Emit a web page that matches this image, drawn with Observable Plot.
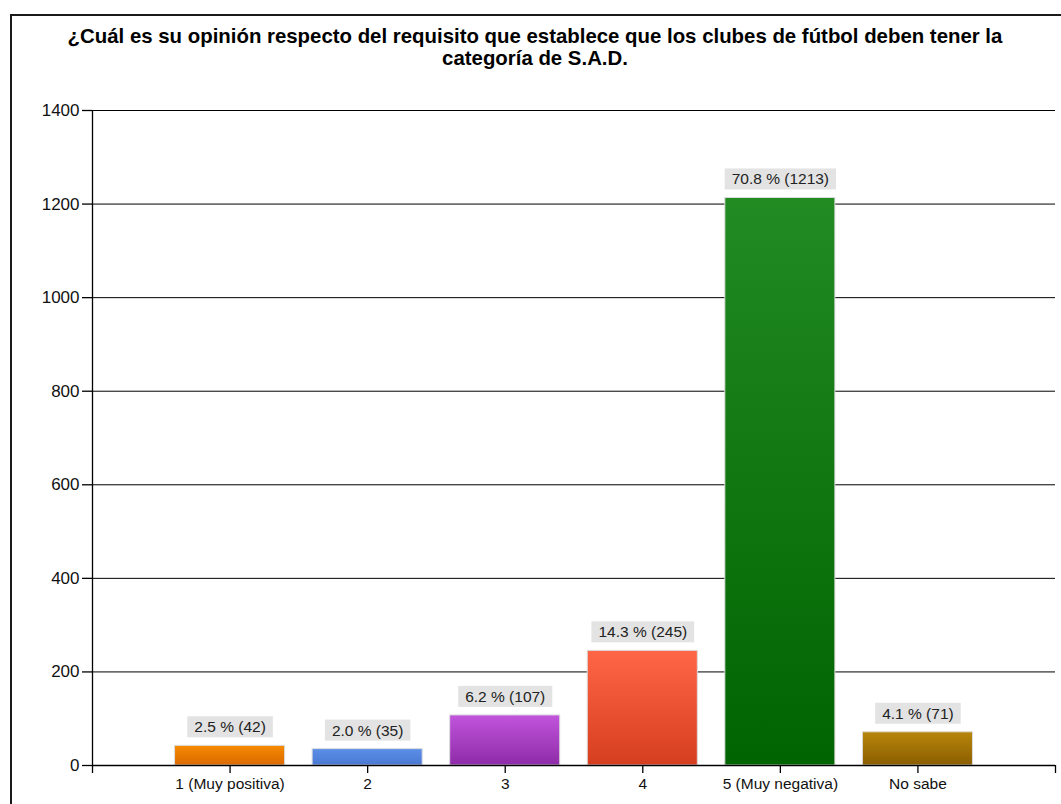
<!DOCTYPE html>
<html>
<head>
<meta charset="utf-8">
<script src="https://cdn.jsdelivr.net/npm/d3@7"></script>
<script src="https://cdn.jsdelivr.net/npm/@observablehq/plot@0.6"></script>
<style>
  html, body { margin: 0; padding: 0; background: #fff; width: 1061px; height: 804px; overflow: hidden; }
  #frame { position: absolute; left: 10px; top: 14px; width: 1060px; height: 800px;
           border-left: 2px solid #1a1a1a; border-top: 2px solid #1a1a1a; box-sizing: border-box; }
  #title { position: absolute; left: 0; top: 25px; width: 1070px; text-align: center;
           font-family: "Liberation Sans", Arial, sans-serif; font-weight: bold; font-size: 20.4px;
           line-height: 22px; color: #000; }
  #chart { position: absolute; left: 0; top: 90px; }
</style>
</head>
<body>
<div id="frame"></div>
<div id="title">¿Cuál es su opinión respecto del requisito que establece que los clubes de fútbol deben tener la<br>categoría de S.A.D.</div>
<div id="chart"></div>
<script>
const categories = ["1 (Muy positiva)", "2", "3", "4", "5 (Muy negativa)", "No sabe"];
const counts = [42, 35, 107, 245, 1213, 71];
const percents = [2.5, 2.0, 6.2, 14.3, 70.8, 4.1];
const yTicks = [0, 200, 400, 600, 800, 1000, 1200, 1400];

const gradTop = ["#f68a00", "#5b8fe6", "#c155dc", "#ff6547", "#228b22", "#b8860b"];
const gradBottom = ["#dc6a00", "#4a78d4", "#8e2ba8", "#d63e20", "#006400", "#8b5e00"];

const data = categories.map((c, i) => ({
  cat: c, pos: i + 1, count: counts[i], pct: percents[i], idx: i,
  label: percents[i].toFixed(1) + " % (" + counts[i] + ")"
}));
const labelSet = new Set(data.map(d => d.label));

const font = "'Liberation Sans', Arial, sans-serif";

const plot = Plot.plot({
  width: 1061,
  height: 714,
  marginLeft: 92,
  marginRight: 6,
  marginTop: 20,
  marginBottom: 39,
  style: { fontFamily: font, background: "transparent", color: "#000" },
  x: { type: "linear", domain: [0, 7], axis: null },
  y: { type: "linear", domain: [0, 1400], axis: null },
  marks: [
    Plot.ruleY(yTicks, { stroke: "#000", strokeWidth: 1, strokeOpacity: 1 }),
    Plot.rectY(data, {
      x1: d => d.pos - 0.4, x2: d => d.pos + 0.4, y1: 0, y2: "count",
      fill: d => `url(#grad${d.idx})`, stroke: "#dcdcdc", strokeWidth: 1
    }),
    Plot.ruleY([0], { stroke: "#000", strokeWidth: 1.3 }),
    Plot.ruleX([0], { stroke: "#000", strokeWidth: 1.3 }),
    Plot.axisX(d3.range(0, 8), {
      tickSize: 8, tickPadding: 4, fontSize: 15.5, fill: "#111",
      stroke: "#000", strokeWidth: 1.3, label: null,
      tickFormat: d => (d >= 1 && d <= 6) ? categories[d - 1] : ""
    }),
    Plot.axisY(yTicks, {
      anchor: "left", tickSize: 10, tickPadding: 3, fontSize: 17, fill: "#111",
      stroke: "#000", strokeWidth: 1.3, label: null, tickFormat: d => String(d)
    }),
    Plot.text(data, {
      x: "pos", y: "count", text: "label", dy: -18.5, fontSize: 15.5, fill: "#222"
    })
  ]
});

document.getElementById("chart").appendChild(plot);

// gradient definitions
const svg = d3.select(plot);
const defs = svg.insert("defs", ":first-child");
gradTop.forEach((c, i) => {
  const g = defs.append("linearGradient").attr("id", "grad" + i)
    .attr("x1", 0).attr("y1", 0).attr("x2", 0).attr("y2", 1);
  g.append("stop").attr("offset", "0%").attr("stop-color", c);
  g.append("stop").attr("offset", "100%").attr("stop-color", gradBottom[i]);
});

// gray boxes behind bar labels
const NS = "http://www.w3.org/2000/svg";
plot.querySelectorAll("text").forEach(t => {
  if (!labelSet.has(t.textContent)) return;
  const bb = t.getBBox();
  const r = document.createElementNS(NS, "rect");
  r.setAttribute("x", bb.x - 7);
  r.setAttribute("y", bb.y - 2);
  r.setAttribute("width", bb.width + 14);
  r.setAttribute("height", bb.height + 4);
  r.setAttribute("fill", "#e3e3e3");
  const tr = t.getAttribute("transform");
  if (tr) r.setAttribute("transform", tr);
  t.parentNode.insertBefore(r, t);
});
</script>
</body>
</html>
